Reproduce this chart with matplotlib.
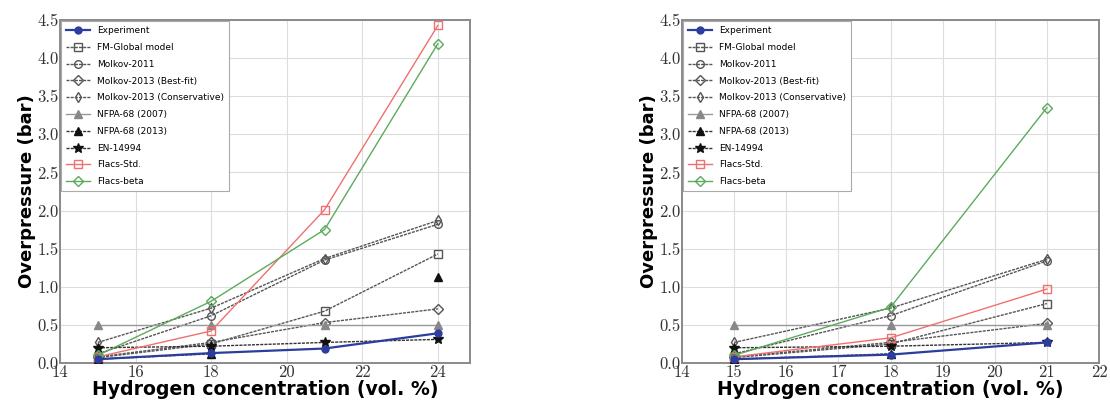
import numpy as np
import matplotlib
matplotlib.use("Agg")
import matplotlib.pyplot as plt

# Hydrogen concentrations (vol. %)
x_left = [15, 18, 21, 24]
x_right = [15, 18, 21]

labels = ["Experiment", "FM-Global model", "Molkov-2011", "Molkov-2013 (Best-fit)",
          "Molkov-2013 (Conservative)", "NFPA-68 (2007)", "NFPA-68 (2013)",
          "EN-14994", "Flacs-Std.", "Flacs-beta"]

# Overpressure (bar), left panel
experiment_l = [0.05, 0.13, 0.19, 0.39]
fm_global_l = [0.07, 0.25, 0.68, 1.43]
molkov2011_l = [0.12, 0.62, 1.35, 1.82]
molkov2013_bf_l = [0.08, 0.27, 0.53, 0.71]
molkov2013_cons_l = [0.27, 0.72, 1.37, 1.87]
nfpa2007_l = [0.50, 0.50, 0.50, 0.50]
nfpa2013_l = [0.05, 0.12, np.nan, 1.13]
en14994_l = [0.20, 0.22, 0.27, 0.31]
flacs_std_l = [0.08, 0.42, 2.01, 4.43]
flacs_beta_l = [0.10, 0.81, 1.75, 4.19]

# Overpressure (bar), right panel
experiment_r = [0.05, 0.11, 0.27]
fm_global_r = [0.07, 0.25, 0.78]
molkov2011_r = [0.12, 0.62, 1.34]
molkov2013_bf_r = [0.08, 0.27, 0.52]
molkov2013_cons_r = [0.27, 0.72, 1.36]
nfpa2007_r = [0.50, 0.50, 0.50]
nfpa2013_r = [0.05, 0.12, np.nan]
en14994_r = [0.20, 0.22, 0.27]
flacs_std_r = [0.08, 0.33, 0.97]
flacs_beta_r = [0.10, 0.73, 3.35]

dash = (0, (2.2, 0.8))
styles = [
    dict(color="#2b3d9e", marker="o", ls="-", lw=1.6, ms=5, mfc="#2b3d9e", mec="#2b3d9e"),
    dict(color="#555555", marker="s", ls=dash, lw=1.0, ms=5.5, mfc="none", mec="#555555"),
    dict(color="#555555", marker="o", ls=dash, lw=1.0, ms=5.5, mfc="none", mec="#555555"),
    dict(color="#555555", marker="D", ls=dash, lw=1.0, ms=5.5, mfc="none", mec="#555555"),
    dict(color="#555555", marker="d", ls=dash, lw=1.0, ms=5.5, mfc="none", mec="#555555"),
    dict(color="#999999", marker="^", ls="-", lw=1.0, ms=6, mfc="#888888", mec="#888888"),
    dict(color="#333333", marker="^", ls=dash, lw=1.0, ms=6, mfc="#111111", mec="#111111"),
    dict(color="#333333", marker="*", ls=dash, lw=1.0, ms=7, mfc="#111111", mec="#111111"),
    dict(color="#f07070", marker="s", ls="-", lw=1.0, ms=5.5, mfc="none", mec="#f07070"),
    dict(color="#5cab5c", marker="D", ls="-", lw=1.0, ms=5.5, mfc="none", mec="#5cab5c"),
]

fig = plt.figure(figsize=(11.1, 4.08), dpi=100)
ax_l = fig.add_axes([60 / 1110, 45 / 408, 410 / 1110, 343 / 408])
ax_r = fig.add_axes([682 / 1110, 45 / 408, 417 / 1110, 343 / 408])

panels = [
    (ax_l, x_left, [experiment_l, fm_global_l, molkov2011_l, molkov2013_bf_l, molkov2013_cons_l,
                    nfpa2007_l, nfpa2013_l, en14994_l, flacs_std_l, flacs_beta_l],
     (14, 24.85), [14, 16, 18, 20, 22, 24]),
    (ax_r, x_right, [experiment_r, fm_global_r, molkov2011_r, molkov2013_bf_r, molkov2013_cons_r,
                     nfpa2007_r, nfpa2013_r, en14994_r, flacs_std_r, flacs_beta_r],
     (14, 22), [14, 15, 16, 17, 18, 19, 20, 21, 22]),
]

tick_font = dict(family="cmr10", size=12)
xlabel_font = dict(family="DejaVu Sans", weight="bold", size=13.6)
ylabel_font = dict(family="DejaVu Sans", weight="bold", size=13)

for ax, xs, series, xlim, xticks in panels:
    # draw back to front so the measured data sits on top
    order = [1, 2, 3, 4, 5, 6, 7, 8, 9, 0]
    handles = {}
    for i in order:
        h, = ax.plot(xs, series[i], label=labels[i], zorder=3 if i else 4, **styles[i])
        handles[i] = h
    ax.set_xlim(*xlim)
    ax.set_ylim(0, 4.5)
    ax.set_xticks(xticks)
    ax.set_yticks(np.arange(0, 4.51, 0.5))
    ax.set_xticklabels([str(t) for t in xticks], fontdict=tick_font)
    ax.set_yticklabels([f"{v:.1f}" for v in np.arange(0, 4.51, 0.5)], fontdict=tick_font)
    ax.tick_params(length=0, pad=1, colors="#333333")
    ax.grid(True, color="#dddddd", lw=0.8)
    ax.set_axisbelow(True)
    for sp in ax.spines.values():
        sp.set_color("#8a8a8a")
        sp.set_linewidth(1.4)
    ax.set_xlabel("Hydrogen concentration (vol. %)", labelpad=0, **xlabel_font)
    ax.set_ylabel("Overpressure (bar)", labelpad=1, **ylabel_font)
    leg = ax.legend([handles[i] for i in range(10)], labels, loc="upper left",
                    prop=dict(family="DejaVu Sans", size=6.5), fancybox=False,
                    framealpha=1, edgecolor="#aaaaaa", borderpad=0.55,
                    labelspacing=0.86, handlelength=2.6, handletextpad=0.8,
                    borderaxespad=0.15)
    leg.get_frame().set_linewidth(0.8)

fig.savefig("out.png", dpi=100)
